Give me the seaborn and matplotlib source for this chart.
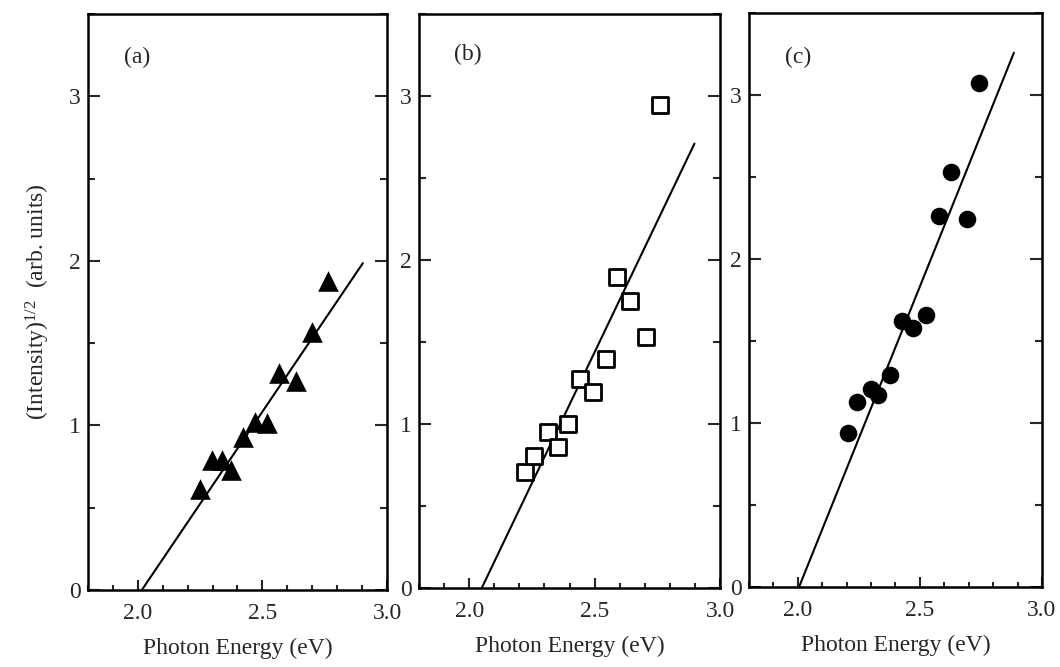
import matplotlib
matplotlib.use("Agg")
import matplotlib.pyplot as plt
import seaborn as sns
from matplotlib.ticker import FixedLocator, MultipleLocator

sns.set_theme(style="ticks")
plt.rcParams['font.family'] = ['Liberation Serif', 'DejaVu Serif']
plt.rcParams['mathtext.fontset'] = 'custom'
plt.rcParams['mathtext.rm'] = 'Liberation Serif'
plt.rcParams['mathtext.it'] = 'Liberation Serif:italic'

# ---- data ----
a_energy = [2.250, 2.297, 2.337, 2.373, 2.421, 2.471, 2.520, 2.568, 2.635, 2.698, 2.763]
a_sqrt_int = [0.614, 0.790, 0.790, 0.730, 0.928, 1.023, 1.017, 1.317, 1.270, 1.567, 1.878]
a_fit_x = [2.016, 2.903]
a_fit_y = [0.0, 1.986]

b_energy = [2.223, 2.260, 2.313, 2.353, 2.393, 2.442, 2.495, 2.546, 2.591, 2.641, 2.704, 2.761]
b_sqrt_int = [0.705, 0.807, 0.953, 0.862, 0.998, 1.273, 1.197, 1.396, 1.898, 1.752, 1.532, 2.945]
b_fit_x = [2.050, 2.898]
b_fit_y = [0.0, 2.710]

c_energy = [2.207, 2.241, 2.300, 2.329, 2.377, 2.425, 2.473, 2.525, 2.578, 2.627, 2.694, 2.743]
c_sqrt_int = [0.940, 1.129, 1.210, 1.170, 1.292, 1.623, 1.577, 1.658, 2.262, 2.532, 2.243, 3.071]
c_fit_x = [2.005, 2.885]
c_fit_y = [0.0, 3.258]

panel_labels = ["(a)", "(b)", "(c)"]
x_ticks = [2.0, 2.5, 3.0]
x_tick_labels = ["2.0", "2.5", "3.0"]
y_ticks = [0, 1, 2, 3]
y_tick_labels = ["0", "1", "2", "3"]
x_label = "Photon Energy (eV)"
y_label = r"(Intensity)$^{\mathrm{1/2}}$  (arb. units)"

fig = plt.figure(figsize=(10.6, 6.67), dpi=100)
positions = [
    [0.0830, 0.1154, 0.2821, 0.8636],
    [0.3953, 0.1184, 0.2840, 0.8606],
    [0.7066, 0.1199, 0.2764, 0.8606],
]
label_pos = [(0.164, 0.924), (0.163, 0.929), (0.167, 0.923)]

panels = [
    (a_energy, a_sqrt_int, a_fit_x, a_fit_y, dict(marker='^', s=220, color='black', edgecolor='black', linewidth=0)),
    (b_energy, b_sqrt_int, b_fit_x, b_fit_y, dict(marker='s', s=121, color='white', edgecolor='black', linewidth=2.0)),
    (c_energy, c_sqrt_int, c_fit_x, c_fit_y, dict(marker='o', s=160, color='black', edgecolor='black', linewidth=0)),
]

FS = 17
for i, (xe, ys, fx, fy, mk) in enumerate(panels):
    ax = fig.add_axes(positions[i])
    sns.lineplot(x=fx, y=fy, ax=ax, color='black', linewidth=1.5, zorder=2)
    sns.scatterplot(x=xe, y=ys, ax=ax, zorder=3, legend=False, **mk)
    ax.set_xlim(1.8, 3.0)
    ax.set_ylim(0, 3.5)
    ax.xaxis.set_major_locator(FixedLocator(x_ticks))
    ax.set_xticklabels(x_tick_labels)
    ax.xaxis.set_minor_locator(MultipleLocator(0.1))
    ax.yaxis.set_major_locator(FixedLocator(y_ticks))
    ax.set_yticklabels(y_tick_labels)
    ax.yaxis.set_minor_locator(MultipleLocator(0.5))
    ax.tick_params(axis='y', which='both', direction='in', left=True, right=True,
                   labelleft=True, labelright=False, width=1.5, labelsize=FS, pad=5)
    ax.tick_params(axis='y', which='major', length=8.5)
    ax.tick_params(axis='y', which='minor', length=5)
    ax.tick_params(axis='x', which='both', direction='in', bottom=True, top=False,
                   width=1.5, labelsize=FS, pad=9)
    ax.tick_params(axis='x', which='major', length=7)
    ax.tick_params(axis='x', which='minor', length=3.6)
    for sp in ax.spines.values():
        sp.set_linewidth(1.8)
        sp.set_color('black')
        sp.set_visible(True)
    ax.set_xlabel(x_label, fontsize=FS, labelpad=10)
    if i == 0:
        ax.set_ylabel(y_label, fontsize=FS, labelpad=12)
    else:
        ax.set_ylabel("")
    ax.text(label_pos[i][0], label_pos[i][1], panel_labels[i], transform=ax.transAxes,
            ha='center', va='center', fontsize=FS)
    ax.set_facecolor('white')

fig.patch.set_facecolor('white')
fig.savefig("out.png", dpi=100, facecolor='white')
